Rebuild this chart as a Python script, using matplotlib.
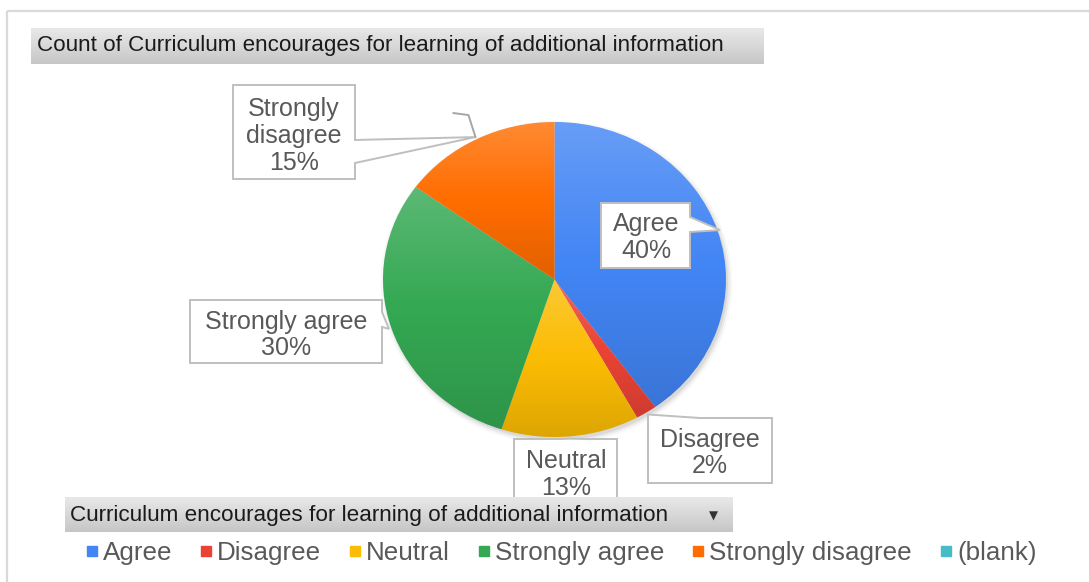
import matplotlib
matplotlib.use("Agg")
import matplotlib.pyplot as plt
import numpy as np
from matplotlib.patches import Polygon, Ellipse
from matplotlib.lines import Line2D
from matplotlib.colors import LinearSegmentedColormap

# ---------------- data ----------------
categories = ["Agree", "Disagree", "Neutral", "Strongly agree", "Strongly disagree", "(blank)"]
percent = [40, 2, 13, 30, 15, 0]
colors = ["#4285F4", "#EA4335", "#FBBC04", "#34A853", "#FF6D01", "#46BDC6"]
title_text = "Count of Curriculum encourages for learning of additional information"
field_text = "Curriculum encourages for learning of additional information"

W, H = 1089, 582
FONT = "Liberation Sans"
LABEL_C = "#595959"

fig = plt.figure(figsize=(W / 100, H / 100), dpi=100)
fig.patch.set_facecolor("white")

# pie axes (pixel box of the ellipse: left 383, right 726, top 122, bottom 437)
px_l, px_r, px_t, px_b = 383, 726, 122, 437
ax = fig.add_axes([px_l / W, 1 - px_b / H, (px_r - px_l) / W, (px_b - px_t) / H], zorder=1)

# overlay axes in pixel coordinates (y downwards)
ov = fig.add_axes([0, 0, 1, 1], zorder=2)
ov.set_xlim(0, W)
ov.set_ylim(H, 0)
ov.axis("off")
ov.patch.set_alpha(0)

# ---------------- pie ----------------
vals = [v for v in percent if v > 0]
cols = [c for v, c in zip(percent, colors) if v > 0]
cats = [k for v, k in zip(percent, categories) if v > 0]

# soft shadow
for s, a in [(1.025, 0.03), (1.012, 0.05), (1.0, 0.07)]:
    ax.add_patch(Ellipse((2.0 / 171.5, -3.0 / 157.5), 2 * s, 2 * s, facecolor="black",
                         alpha=a, edgecolor="none", zorder=0.3, clip_on=False))

wedges, _ = ax.pie(vals, colors=cols, startangle=90, counterclock=False, radius=1,
                   center=(0, 0), wedgeprops=dict(linewidth=0, antialiased=True))
for w in wedges:
    w.set_clip_on(False)

# per-wedge vertical gradient (lighter top, darker bottom)
n = 256
t = np.linspace(0, 1, n)
grad = np.zeros((n, 1, 4))
top = t < 0.5
grad[top, 0, :3] = 1.0
grad[top, 0, 3] = 0.20 * (0.5 - t[top]) * 2
grad[~top, 0, :3] = 0.0
grad[~top, 0, 3] = 0.12 * (t[~top] - 0.5) * 2
for w in wedges:
    ext = w.get_path().get_extents(w.get_patch_transform())
    im = ax.imshow(grad, extent=(ext.x0, ext.x1, ext.y0, ext.y1), origin="upper",
                   aspect="auto", zorder=w.get_zorder() + 0.1, interpolation="bilinear")
    im.set_clip_path(w)

ax.set_aspect("auto")
ax.set_xlim(-1, 1)
ax.set_ylim(-1, 1)
ax.axis("off")


def tip_of(idx, r=1.0):
    w = wedges[idx]
    mid = np.deg2rad((w.theta1 + w.theta2) / 2)
    disp = ax.transData.transform((r * np.cos(mid), r * np.sin(mid)))
    return ov.transData.inverted().transform(disp)


# ---------------- background decorations ----------------
border_c = "#d9d9d9"
ov.plot([7, W], [11, 11], color=border_c, lw=1.6, solid_capstyle="butt", zorder=0)
ov.plot([7, 7], [11, H], color=border_c, lw=1.6, solid_capstyle="butt", zorder=0)

bar_grad = np.linspace(0, 1, 64)[:, None]
gray_cmap = LinearSegmentedColormap.from_list("g", ["#e8e8e8", "#d8d8d8", "#c6c6c6"])


def gray_bar(x0, y0, x1, y1, z):
    ov.imshow(bar_grad, extent=(x0, x1, y1, y0), cmap=gray_cmap, aspect="auto",
              origin="upper", zorder=z, interpolation="bilinear")


gray_bar(31, 28, 764, 64, 1)
gray_bar(65, 497, 733, 532, 6)
ov.set_xlim(0, W)
ov.set_ylim(H, 0)


def fit_text(x, y, s, target_w, color, z, size0=15):
    txt = ov.text(x, y, s, fontsize=size0, family=FONT, color=color, ha="left",
                  va="center", zorder=z)
    r = fig.canvas.get_renderer()
    bb = txt.get_window_extent(r)
    txt.set_fontsize(size0 * target_w / bb.width)
    return txt


fit_text(37, 46, title_text, 688, "#1a1a1a", 2)
fit_text(70, 515, field_text, 597, "#1a1a1a", 7)
ov.text(713, 516, "\u25BC", fontsize=8.5, family="DejaVu Sans", color="#333333",
        ha="center", va="center", zorder=7)

# ---------------- data labels (callouts) ----------------
LBL_PT = 18
cap = 0.358 * LBL_PT * 100 / 72  # half cap height in px

layout = {
    "Agree": dict(box=(601, 203, 690, 268), side="right", base=(217, 232), cx=646,
                  lines_y=[222, 249], wrap=False),
    "Strongly agree": dict(box=(190, 300, 382, 363), side="right", base=(312, 327), cx=286,
                           lines_y=[320, 346], wrap=False),
    "Disagree": dict(box=(648, 418, 772, 483), side="top", base=(648, 700), cx=710,
                     lines_y=[438, 464], wrap=False),
    "Neutral": dict(box=(514, 439, 617, 512), side="top", base=(560, 585), cx=566,
                    lines_y=[459, 486], wrap=False),
    "Strongly disagree": dict(box=(233, 85, 355, 179), side="right", base=(140, 163), cx=294,
                              lines_y=[107, 134, 161], wrap=True),
}

edge_c = "#bfbfbf"
for i, cat in enumerate(cats):
    L = layout[cat]
    x0, y0, x1, y1 = L["box"]
    tx, ty = tip_of(i, 1.015)
    b0, b1 = L["base"]
    if L["side"] == "right":
        pts = [(x0, y0), (x1, y0), (x1, b0), (tx, ty), (x1, b1), (x1, y1), (x0, y1)]
    else:
        pts = [(x0, y1), (x0, y0), (b0, y0), (tx, min(ty, y0)), (b1, y0), (x1, y0), (x1, y1)]
    ov.add_patch(Polygon(pts, closed=True, facecolor="white", edgecolor=edge_c, lw=1.4,
                         zorder=4, joinstyle="miter"))
    if cat == "Strongly disagree":
        ov.plot([tx, tx - 7, tx - 22], [ty, ty - 22, ty - 24], color="#a6a6a6", lw=1.4,
                zorder=4)
    words = cat.split(" ", 1) if L["wrap"] else [cat]
    lines = words + [f"{percent[categories.index(cat)]}%"]
    for s, yy in zip(lines, L["lines_y"]):
        ov.text(L["cx"], yy + cap, s, fontsize=LBL_PT, family=FONT, color=LABEL_C,
                ha="center", va="baseline", zorder=5)

# ---------------- legend ----------------
LEG_PT = 18.7
handles = [Line2D([], [], marker="s", linestyle="none", markersize=7.0, markerfacecolor=c,
                  markeredgecolor=c) for c in colors]
leg = fig.legend(handles, categories, loc="center left", bbox_to_anchor=(86 / W, 1 - 553 / H),
                 ncol=6, frameon=False, handlelength=0.45, handletextpad=0.2,
                 columnspacing=1.08, borderpad=0, borderaxespad=0,
                 prop=dict(family=FONT, size=LEG_PT))
for txt in leg.get_texts():
    txt.set_color(LABEL_C)

fig.savefig("out.png", dpi=100, facecolor="white")
